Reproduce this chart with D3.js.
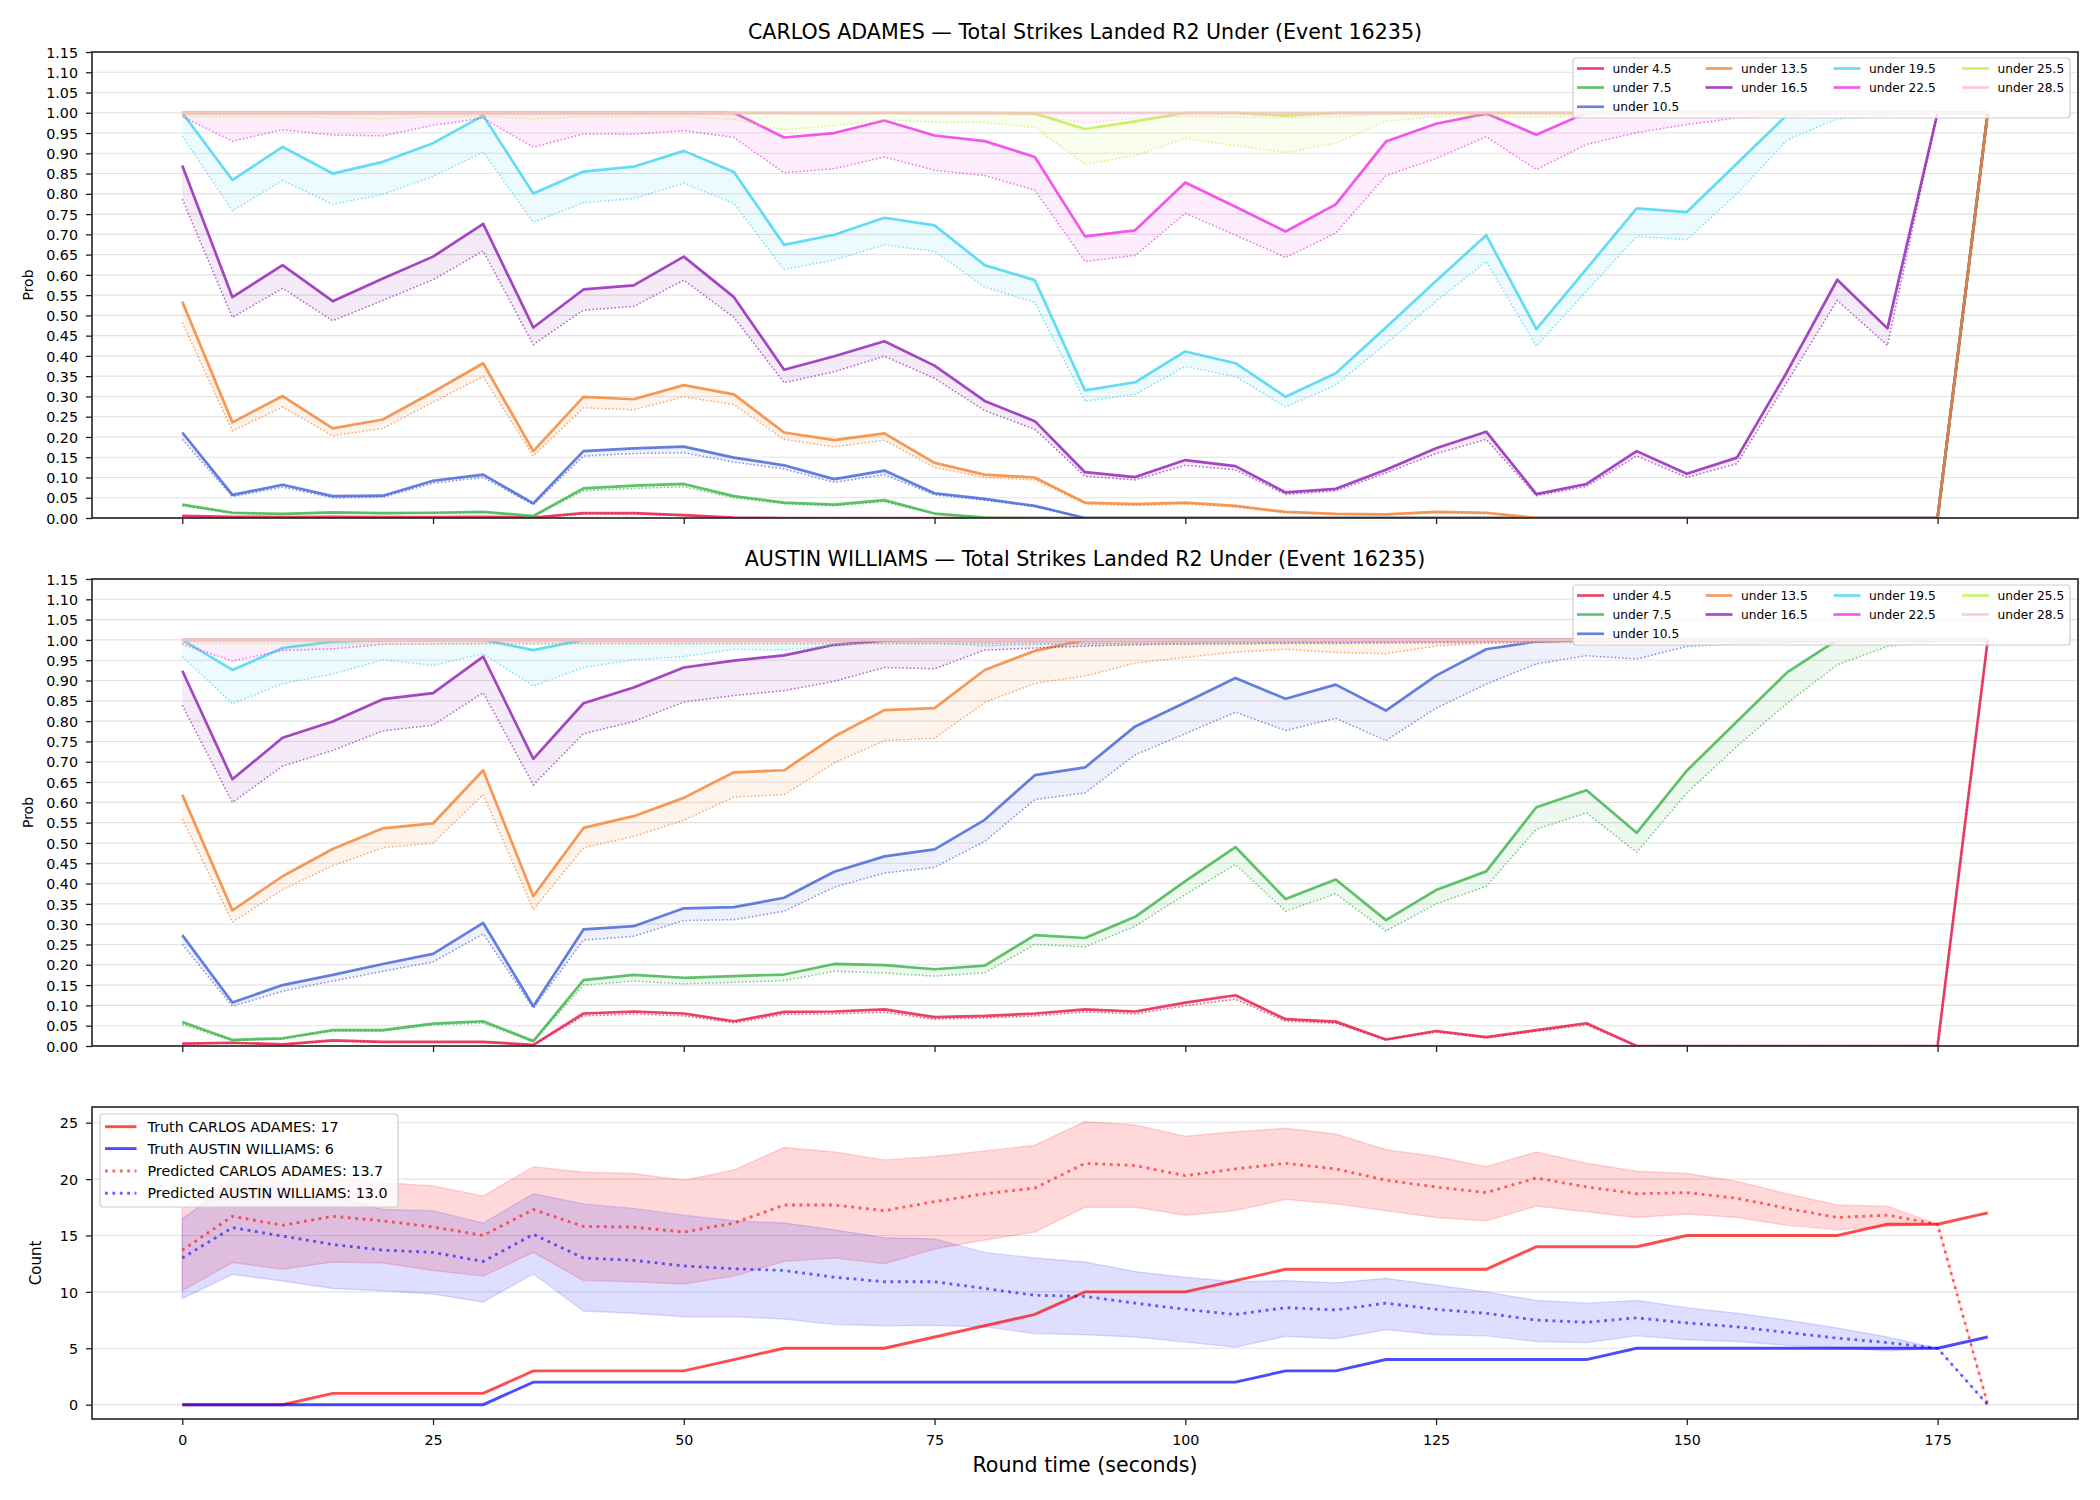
<!DOCTYPE html>
<html><head><meta charset="utf-8">
<script src="https://cdn.jsdelivr.net/npm/d3@7"></script>
<style>body{margin:0;background:#fff;} svg{display:block;font-family:"DejaVu Sans",sans-serif;}</style>
</head><body><svg id="chart" width="2100" height="1500"></svg>
<script>
// ---------------- DATA ----------------
const times = [0,5,10,15,20,25,30,35,40,45,50,55,60,65,70,75,80,85,90,95,100,105,110,115,120,125,130,135,140,145,150,155,160,165,170,175,180];
const thresholds = ["under 4.5","under 7.5","under 10.5","under 13.5","under 16.5","under 19.5","under 22.5","under 25.5","under 28.5"];
const xTicks = [0,25,50,75,100,125,150,175];
const probTicks = [0,0.05,0.10,0.15,0.20,0.25,0.30,0.35,0.40,0.45,0.50,0.55,0.60,0.65,0.70,0.75,0.80,0.85,0.90,0.95,1.00,1.05,1.10,1.15];
const countTicks = [0,5,10,15,20,25];

// CARLOS ADAMES (solid = main, Lo = dotted lower)
const aU45   = [0.005,0.003,0.002,0.003,0.002,0.002,0.003,0.001,0.012,0.012,0.007,0.001,0,0,0,0,0,0,0,0,0,0,0,0,0,0,0,0,0,0,0,0,0,0,0,0,1];
const aU45Lo = [0.004,0.002,0.001,0.002,0.001,0.001,0.002,0.0005,0.010,0.010,0.006,0.0005,0,0,0,0,0,0,0,0,0,0,0,0,0,0,0,0,0,0,0,0,0,0,0,0,1];
const aU75   = [0.033,0.013,0.010,0.014,0.012,0.013,0.015,0.005,0.073,0.080,0.084,0.054,0.038,0.033,0.044,0.011,0.001,0,0,0,0,0,0,0,0,0,0,0,0,0,0,0,0,0,0,0,1];
const aU75Lo = [0.030,0.012,0.009,0.013,0.011,0.012,0.014,0.004,0.067,0.073,0.077,0.050,0.035,0.030,0.040,0.010,0.001,0,0,0,0,0,0,0,0,0,0,0,0,0,0,0,0,0,0,0,1];
const aU105   = [0.211,0.057,0.082,0.054,0.055,0.092,0.107,0.036,0.165,0.172,0.176,0.149,0.130,0.096,0.117,0.061,0.047,0.030,0,0,0,0,0,0,0,0,0,0,0,0,0,0,0,0,0,0,1];
const aU105Lo = [0.194,0.053,0.076,0.050,0.051,0.086,0.100,0.033,0.153,0.159,0.161,0.138,0.121,0.088,0.107,0.057,0.044,0.028,0,0,0,0,0,0,0,0,0,0,0,0,0,0,0,0,0,0,1];
const aU135   = [0.534,0.236,0.301,0.221,0.243,0.311,0.382,0.165,0.299,0.293,0.328,0.305,0.211,0.192,0.209,0.136,0.107,0.100,0.038,0.034,0.038,0.030,0.015,0.010,0.009,0.015,0.013,0,0,0,0,0,0,0,0,0,1];
const aU135Lo = [0.482,0.215,0.274,0.203,0.221,0.286,0.349,0.153,0.272,0.267,0.299,0.280,0.194,0.176,0.192,0.125,0.100,0.094,0.035,0.031,0.035,0.027,0.013,0.009,0.008,0.013,0.011,0,0,0,0,0,0,0,0,0,1];
const aU165   = [0.870,0.545,0.624,0.535,0.591,0.645,0.726,0.470,0.564,0.574,0.645,0.545,0.366,0.399,0.436,0.376,0.289,0.239,0.113,0.101,0.143,0.128,0.063,0.072,0.119,0.172,0.213,0.059,0.084,0.165,0.109,0.149,0.361,0.588,0.468,1,1];
const aU165Lo = [0.787,0.495,0.567,0.487,0.537,0.588,0.659,0.428,0.513,0.522,0.587,0.495,0.334,0.361,0.399,0.345,0.265,0.219,0.103,0.094,0.130,0.119,0.058,0.067,0.111,0.159,0.194,0.055,0.078,0.153,0.100,0.134,0.336,0.537,0.426,1,1];
const aU195   = [1.000,0.834,0.916,0.850,0.879,0.925,0.993,0.801,0.855,0.867,0.906,0.854,0.674,0.699,0.741,0.722,0.624,0.587,0.315,0.335,0.411,0.382,0.299,0.357,0.470,0.585,0.698,0.466,0.615,0.764,0.755,0.875,0.995,1,1,1,1];
const aU195Lo = [0.943,0.758,0.833,0.774,0.799,0.843,0.903,0.730,0.778,0.788,0.826,0.776,0.613,0.637,0.674,0.658,0.570,0.532,0.288,0.305,0.374,0.349,0.274,0.328,0.430,0.535,0.633,0.424,0.560,0.695,0.687,0.800,0.933,0.985,0.993,0.997,1];
const aU225   = [1,1,1,1,1,1,1,1,1,1,1,1,0.939,0.950,0.981,0.944,0.930,0.891,0.695,0.710,0.828,0.768,0.707,0.774,0.929,0.973,0.998,0.946,1,1,1,1,1,1,1,1,1];
const aU225Lo = [0.991,0.930,0.958,0.945,0.943,0.969,0.987,0.915,0.948,0.947,0.956,0.939,0.852,0.862,0.891,0.858,0.845,0.809,0.633,0.648,0.752,0.698,0.643,0.703,0.845,0.887,0.941,0.860,0.922,0.951,0.971,0.987,0.996,0.998,0.998,0.999,1];
const aU255   = [1,1,1,1,1,1,1,1,1,1,1,1,1,1,1,1,1,0.998,0.960,0.979,1.000,1.000,0.993,1.000,1,1,1,1,1,1,1,1,1,1,1,1,1];
const aU255Lo = [0.991,0.990,0.991,0.988,0.985,0.990,0.991,0.985,0.990,0.991,0.991,0.983,0.958,0.968,0.983,0.977,0.976,0.964,0.873,0.894,0.937,0.919,0.902,0.925,0.979,0.991,0.991,0.989,0.993,0.995,0.995,0.996,0.997,0.998,0.998,0.999,1];
const aU285   = [1,1,1,1,1,1,1,1,1,1,1,1,1,1,1,1,1,1,1,1,1,1,1,1,1,1,1,1,1,1,1,1,1,1,1,1,1];
const aU285Lo = [0.998,0.998,0.998,0.998,0.998,0.998,0.998,0.998,0.998,0.998,0.998,0.998,0.998,0.997,0.998,0.997,0.997,0.995,0.975,0.986,0.991,0.989,0.987,0.990,0.996,0.998,0.998,0.998,0.998,0.998,0.998,0.998,0.998,0.999,0.999,0.999,1];

// AUSTIN WILLIAMS
const wU45   = [0.006,0.008,0.004,0.014,0.010,0.010,0.010,0.003,0.080,0.085,0.080,0.061,0.084,0.085,0.090,0.071,0.074,0.080,0.090,0.085,0.107,0.125,0.066,0.060,0.016,0.037,0.022,0.039,0.056,0,0,0,0,0,0,0,1];
const wU45Lo = [0.005,0.007,0.003,0.012,0.009,0.009,0.009,0.002,0.074,0.079,0.074,0.057,0.078,0.079,0.083,0.066,0.069,0.074,0.084,0.079,0.099,0.115,0.061,0.056,0.015,0.034,0.020,0.036,0.052,0,0,0,0,0,0,0,1];
const wU75   = [0.059,0.015,0.019,0.039,0.039,0.055,0.061,0.012,0.162,0.175,0.168,0.172,0.176,0.202,0.199,0.189,0.198,0.273,0.266,0.318,0.406,0.490,0.362,0.410,0.310,0.384,0.430,0.588,0.630,0.525,0.678,0.799,0.920,1,1,1,1];
const wU75Lo = [0.053,0.013,0.017,0.037,0.037,0.052,0.056,0.011,0.150,0.160,0.153,0.157,0.161,0.184,0.180,0.172,0.180,0.250,0.244,0.295,0.373,0.447,0.332,0.375,0.283,0.350,0.393,0.534,0.574,0.477,0.623,0.738,0.844,0.939,0.984,0.996,1];
const wU105   = [0.273,0.107,0.150,0.175,0.202,0.227,0.303,0.098,0.287,0.295,0.339,0.342,0.365,0.429,0.467,0.484,0.557,0.667,0.686,0.787,0.846,0.906,0.855,0.890,0.826,0.912,0.977,0.996,1,1,1,1,1,1,1,1,1];
const wU105Lo = [0.250,0.098,0.135,0.160,0.184,0.207,0.276,0.093,0.261,0.270,0.309,0.311,0.332,0.391,0.426,0.440,0.504,0.607,0.623,0.717,0.769,0.822,0.777,0.807,0.752,0.832,0.891,0.941,0.961,0.953,0.984,0.990,0.993,0.995,0.997,0.998,1];
const wU135   = [0.619,0.334,0.418,0.485,0.536,0.548,0.679,0.369,0.537,0.566,0.611,0.674,0.679,0.762,0.827,0.832,0.926,0.973,1,1,1,1,1,1,1,1,1,1,1,1,1,1,1,1,1,1,1];
const wU135Lo = [0.559,0.305,0.385,0.444,0.488,0.500,0.619,0.336,0.488,0.516,0.556,0.613,0.619,0.697,0.752,0.758,0.846,0.893,0.911,0.943,0.957,0.970,0.977,0.969,0.966,0.985,0.992,0.995,0.996,0.997,0.997,0.998,0.998,0.999,0.999,0.999,1];
const wU165   = [0.924,0.657,0.759,0.799,0.854,0.869,0.959,0.707,0.844,0.883,0.932,0.949,0.962,0.988,0.998,1,1,1,1,1,1,1,1,1,1,1,1,1,1,1,1,1,1,1,1,1,1];
const wU165Lo = [0.839,0.600,0.689,0.728,0.776,0.790,0.870,0.643,0.769,0.799,0.847,0.863,0.875,0.898,0.932,0.929,0.975,0.980,0.985,0.988,0.990,0.991,0.992,0.993,0.994,0.995,0.996,0.996,0.997,0.997,0.998,0.998,0.998,0.999,0.999,0.999,1];
const wU195   = [1.000,0.926,0.980,0.996,1,1,1,0.975,1,1,1,1,1,1,1,1,1,1,1,1,1,1,1,1,1,1,1,1,1,1,1,1,1,1,1,1,1];
const wU195Lo = [0.959,0.843,0.892,0.916,0.951,0.937,0.966,0.887,0.932,0.951,0.959,0.977,0.975,0.986,0.992,0.992,0.985,0.989,0.990,0.991,0.992,0.993,0.994,0.995,0.995,0.996,0.996,0.997,0.997,0.998,0.998,0.998,0.999,0.999,0.999,0.999,1];
const wU225   = [1,1,1,1,1,1,1,1,1,1,1,1,1,1,1,1,1,1,1,1,1,1,1,1,1,1,1,1,1,1,1,1,1,1,1,1,1];
const wU225Lo = [0.990,0.948,0.974,0.978,0.989,0.990,0.991,0.991,0.991,0.991,0.991,0.991,0.991,0.991,0.991,0.991,0.991,0.991,0.991,0.991,0.991,0.991,0.992,0.992,0.992,0.993,0.993,0.994,0.994,0.995,0.995,0.996,0.996,0.997,0.998,0.999,1];
const wU255   = [1,1,1,1,1,1,1,1,1,1,1,1,1,1,1,1,1,1,1,1,1,1,1,1,1,1,1,1,1,1,1,1,1,1,1,1,1];
const wU255Lo = [0.990,0.990,0.990,0.990,0.990,0.990,0.990,0.990,0.990,0.990,0.990,0.990,0.990,0.990,0.990,0.990,0.990,0.990,0.990,0.990,0.990,0.990,0.990,0.990,0.991,0.991,0.992,0.992,0.993,0.993,0.994,0.995,0.996,0.997,0.998,0.999,1];
const wU285   = [1,1,1,1,1,1,1,1,1,1,1,1,1,1,1,1,1,1,1,1,1,1,1,1,1,1,1,1,1,1,1,1,1,1,1,1,1];
const wU285Lo = [0.997,0.997,0.997,0.997,0.997,0.997,0.997,0.997,0.997,0.997,0.997,0.997,0.997,0.997,0.997,0.997,0.997,0.997,0.997,0.997,0.997,0.997,0.997,0.997,0.997,0.997,0.997,0.998,0.998,0.998,0.998,0.998,0.998,0.999,0.999,0.999,1];

// Counts panel
const truthAdames   = [0,0,0,1,1,1,1,3,3,3,3,4,5,5,5,6,7,8,10,10,10,11,12,12,12,12,12,14,14,14,15,15,15,15,16,16,17];
const truthWilliams = [0,0,0,0,0,0,0,2,2,2,2,2,2,2,2,2,2,2,2,2,2,2,3,3,4,4,4,4,4,5,5,5,5,5,5,5,6];
const predAdames    = [13.7,16.7,15.9,16.7,16.3,15.75,15.0,17.3,15.8,15.75,15.3,16.1,17.7,17.7,17.2,18.0,18.7,19.2,21.4,21.2,20.3,20.9,21.4,20.9,19.9,19.3,18.8,20.1,19.3,18.7,18.8,18.3,17.4,16.6,16.8,16.0,0];
const adamesHi      = [17.4,20.1,19.8,20.0,19.7,19.4,18.5,21.1,20.6,20.5,19.9,20.8,22.8,22.4,21.7,22.0,22.5,23.0,25.1,24.8,23.8,24.2,24.5,24.0,22.6,22.0,21.1,22.4,21.4,20.7,20.5,19.8,18.7,17.7,17.6,16.0,0];
const adamesLo      = [10.1,12.6,12.0,12.65,12.56,11.9,11.4,13.5,11.0,10.9,10.7,11.4,12.7,13.0,12.5,13.8,14.6,15.3,17.5,17.5,16.8,17.2,18.2,17.8,17.2,16.6,16.3,17.6,17.1,16.6,16.9,16.6,15.9,15.5,15.8,16.0,0];
const predWilliams  = [13.0,15.7,14.95,14.2,13.7,13.5,12.7,15.1,13.0,12.8,12.3,12.05,11.9,11.3,10.9,10.9,10.3,9.7,9.6,9.0,8.45,8.0,8.6,8.4,9.0,8.45,8.1,7.5,7.3,7.7,7.25,6.9,6.4,5.9,5.5,5.0,0];
const williamsHi    = [16.5,19.6,19.3,18.5,17.3,17.2,16.1,18.7,17.8,17.4,16.8,16.3,16.1,15.5,14.8,14.7,13.5,13.0,12.65,11.8,11.3,10.9,11.0,10.8,11.2,10.6,10.0,9.25,9.0,9.25,8.6,8.1,7.5,6.8,6.0,5.0,0];
const williamsLo    = [9.4,11.55,10.96,10.3,10.1,9.8,9.1,11.6,8.3,8.1,7.8,7.8,7.6,7.1,7.0,7.03,6.9,6.3,6.2,6.0,5.55,5.1,6.06,5.85,6.65,6.2,6.1,5.6,5.5,6.1,5.76,5.6,5.26,5.05,4.75,5.0,0];

const adamesMain = [aU45,aU75,aU105,aU135,aU165,aU195,aU225,aU255,aU285];
const adamesLow  = [aU45Lo,aU75Lo,aU105Lo,aU135Lo,aU165Lo,aU195Lo,aU225Lo,aU255Lo,aU285Lo];
const williamsMain = [wU45,wU75,wU105,wU135,wU165,wU195,wU225,wU255,wU285];
const williamsLow  = [wU45Lo,wU75Lo,wU105Lo,wU135Lo,wU165Lo,wU195Lo,wU225Lo,wU255Lo,wU285Lo];

// ---------------- STYLE ----------------
const colors = ["#e6194b","#3cb44b","#4363d8","#f58231","#911eb4","#42d4f4","#f032e6","#bfef45","#fabed4"];
const L = 92, R = 2078;
const FONT = "DejaVu Sans";
const svg = d3.select("#chart");
svg.append("rect").attr("width",2100).attr("height",1500).attr("fill","#fff");
const x = d3.scaleLinear().domain([-9,189]).range([L,R]);

function styleAxis(g, fs){
  g.selectAll("path.domain").remove();
  g.selectAll(".tick line").attr("stroke","#222").attr("stroke-width",1.3);
  g.selectAll(".tick text").attr("fill","#000").attr("font-family",FONT).attr("font-size",fs);
}

function gridLines(y,ticks){
  const g = svg.append("g");
  g.selectAll("line").data(ticks).join("line")
    .attr("x1",L).attr("x2",R).attr("y1",d=>y(d)).attr("y2",d=>y(d))
    .attr("stroke","#e2e2e2").attr("stroke-width",1.1);
}

function frame(top,bottom,y,ticks,fmt,showXLabels){
  const gy = svg.append("g").attr("transform",`translate(${L},0)`)
    .call(d3.axisLeft(y).tickValues(ticks).tickFormat(fmt).tickSize(6).tickPadding(8));
  styleAxis(gy,14.3);
  gy.selectAll(".tick text").attr("dy","0.36em");
  const gx = svg.append("g").attr("transform",`translate(0,${bottom})`)
    .call(d3.axisBottom(x).tickValues(xTicks).tickSize(6).tickPadding(10).tickFormat(showXLabels? d3.format("d") : ""));
  styleAxis(gx,14.3);
  svg.append("rect").attr("x",L).attr("y",top).attr("width",R-L).attr("height",bottom-top)
    .attr("fill","none").attr("stroke","#222").attr("stroke-width",1.6);
}

function clip(id,top,bottom){
  svg.append("clipPath").attr("id",id).append("rect").attr("x",L).attr("y",top).attr("width",R-L).attr("height",bottom-top);
}

function probPanel(id, top, bottom, title, mains, lows){
  const y = d3.scaleLinear().domain([0,1.15]).range([bottom,top]);
  gridLines(y,probTicks);
  clip(id,top,bottom);
  const g = svg.append("g").attr("clip-path",`url(#${id})`);
  const line = d3.line().x((d,i)=>x(times[i])).y(d=>y(d));
  thresholds.forEach((t,k)=>{
    const main = mains[k], low = lows[k];
    const area = d3.area().x((d,i)=>x(times[i])).y0((d,i)=>y(low[i])).y1((d,i)=>y(main[i]));
    g.append("path").datum(main).attr("d",area).attr("fill",colors[k]).attr("fill-opacity",0.09);
    g.append("path").datum(low).attr("d",line).attr("fill","none").attr("stroke",colors[k])
      .attr("stroke-opacity",0.7).attr("stroke-width",1.5).attr("stroke-dasharray","1.5,2.2");
    g.append("path").datum(main).attr("d",line).attr("fill","none").attr("stroke",colors[k])
      .attr("stroke-opacity",0.82).attr("stroke-width",2.7).attr("stroke-linejoin","round");
  });
  frame(top,bottom,y,probTicks,d3.format(".2f"),false);
  svg.append("text").attr("x",(L+R)/2).attr("y",top-13.5).attr("text-anchor","middle")
    .attr("font-family",FONT).attr("font-size",20.6).attr("fill","#000").text(title);
  svg.append("text").attr("transform",`translate(33,${(top+bottom)/2}) rotate(-90)`).attr("text-anchor","middle")
    .attr("font-family",FONT).attr("font-size",14).attr("fill","#000").text("Prob");
  // legend (ncol = 4, column-major)
  const lg = svg.append("g");
  lg.append("rect").attr("x",1573).attr("y",top+6).attr("width",497).attr("height",60).attr("rx",3)
    .attr("fill","#fff").attr("fill-opacity",0.8).attr("stroke","#cccccc").attr("stroke-width",1.2);
  const colX = [1577,1705.5,1833.5,1962];
  const rowY = [top+16.5, top+35.5, top+54.8];
  const layout = [[0,0],[0,1],[0,2],[1,0],[1,1],[2,0],[2,1],[3,0],[3,1]];
  thresholds.forEach((t,k)=>{
    const [c,r] = layout[k];
    lg.append("line").attr("x1",colX[c]).attr("x2",colX[c]+27).attr("y1",rowY[r]).attr("y2",rowY[r])
      .attr("stroke",colors[k]).attr("stroke-opacity",0.8).attr("stroke-width",2.7);
    lg.append("text").attr("x",colX[c]+35.5).attr("y",rowY[r]).attr("dy","0.36em")
      .attr("font-family",FONT).attr("font-size",12.2).attr("fill","#000").text(t);
  });
}

probPanel("c1",52,518,"CARLOS ADAMES \u2014 Total Strikes Landed R2 Under (Event 16235)",adamesMain,adamesLow);
probPanel("c2",579,1046,"AUSTIN WILLIAMS \u2014 Total Strikes Landed R2 Under (Event 16235)",williamsMain,williamsLow);

// ---- Count panel ----
(function(){
  const top = 1107, bottom = 1419;
  const y = d3.scaleLinear().domain([-1.27,26.39]).range([bottom,top]);
  gridLines(y,countTicks);
  clip("c3",top,bottom);
  const g = svg.append("g").attr("clip-path","url(#c3)");
  const band = (lo,hi)=> d3.area().x((d,i)=>x(times[i])).y0((d,i)=>y(lo[i])).y1((d,i)=>y(hi[i]));
  const line = d3.line().x((d,i)=>x(times[i])).y(d=>y(d));
  g.append("path").datum(adamesHi).attr("d",band(adamesLo,adamesHi)).attr("fill","#ff0000").attr("fill-opacity",0.15)
    .attr("stroke","#ff0000").attr("stroke-opacity",0.15).attr("stroke-width",1.4);
  g.append("path").datum(williamsHi).attr("d",band(williamsLo,williamsHi)).attr("fill","#0000ff").attr("fill-opacity",0.13)
    .attr("stroke","#0000ff").attr("stroke-opacity",0.13).attr("stroke-width",1.4);
  g.append("path").datum(truthAdames).attr("d",line).attr("fill","none").attr("stroke","#ff0000").attr("stroke-opacity",0.7).attr("stroke-width",2.9);
  g.append("path").datum(truthWilliams).attr("d",line).attr("fill","none").attr("stroke","#0000ff").attr("stroke-opacity",0.7).attr("stroke-width",2.9);
  g.append("path").datum(predAdames).attr("d",line).attr("fill","none").attr("stroke","#ff0000").attr("stroke-opacity",0.6).attr("stroke-width",2.8).attr("stroke-dasharray","2.8,4.6");
  g.append("path").datum(predWilliams).attr("d",line).attr("fill","none").attr("stroke","#0000ff").attr("stroke-opacity",0.6).attr("stroke-width",2.8).attr("stroke-dasharray","2.8,4.6");
  frame(top,bottom,y,countTicks,d3.format("d"),true);
  svg.append("text").attr("transform",`translate(41,${(top+bottom)/2}) rotate(-90)`).attr("text-anchor","middle")
    .attr("font-family",FONT).attr("font-size",15).attr("fill","#000").text("Count");
  svg.append("text").attr("x",(L+R)/2).attr("y",1472).attr("text-anchor","middle")
    .attr("font-family",FONT).attr("font-size",20.6).attr("fill","#000").text("Round time (seconds)");
  // legend
  const lg = svg.append("g");
  lg.append("rect").attr("x",100).attr("y",1114).attr("width",298).attr("height",93).attr("rx",3)
    .attr("fill","#fff").attr("fill-opacity",0.8).attr("stroke","#cccccc").attr("stroke-width",1.2);
  const items = [
    {label:"Truth CARLOS ADAMES: 17", c:"#ff0000", op:0.7, dash:null},
    {label:"Truth AUSTIN WILLIAMS: 6", c:"#0000ff", op:0.7, dash:null},
    {label:"Predicted CARLOS ADAMES: 13.7", c:"#ff0000", op:0.6, dash:"2.8,4.6"},
    {label:"Predicted AUSTIN WILLIAMS: 13.0", c:"#0000ff", op:0.6, dash:"2.8,4.6"}
  ];
  const rows = [1126.7,1148.6,1171,1193.3];
  items.forEach((it,k)=>{
    const ln = lg.append("line").attr("x1",105).attr("x2",136.5).attr("y1",rows[k]).attr("y2",rows[k])
      .attr("stroke",it.c).attr("stroke-opacity",it.op).attr("stroke-width",2.9);
    if(it.dash) ln.attr("stroke-dasharray",it.dash);
    lg.append("text").attr("x",147.5).attr("y",rows[k]).attr("dy","0.36em")
      .attr("font-family",FONT).attr("font-size",14.3).attr("fill","#000").text(it.label);
  });
})();
</script></body></html>
